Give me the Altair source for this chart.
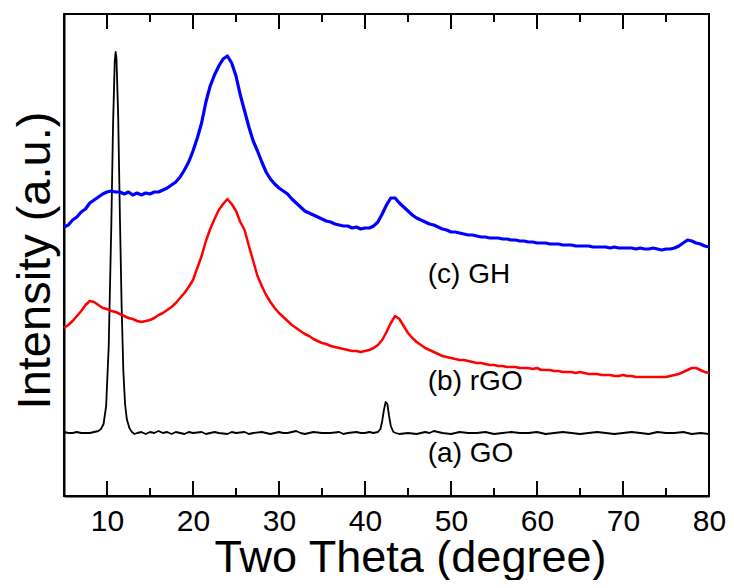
import altair as alt
import pandas as pd

# ---- data ----
step_x = [5 + 0.5 * i for i in range(151)]  # 5.0 ... 80.0 sampling positions

gh_x = step_x
gh_y = [269, 271, 276, 279, 284, 287, 293, 296, 299, 302,
        304, 305, 304, 304, 302, 304, 301, 303, 301, 303,
        302, 304, 304, 306, 308, 311, 314, 319, 326, 334,
        345, 358, 373, 394, 410, 421, 430, 437, 440, 433,
        420, 401, 385, 369, 355, 345, 334, 324, 317, 312,
        308, 305, 302, 297, 293, 289, 285, 283, 281, 279,
        277, 275, 274, 272, 271, 270, 270, 268, 269, 267,
        268, 268, 270, 274, 282, 291, 298, 298, 293, 289,
        285, 281, 278, 276, 274, 272, 271, 269, 267, 266,
        264, 264, 263, 262, 261, 261, 260, 259, 259, 258,
        258, 258, 257, 257, 256, 256, 255, 255, 254, 254,
        253, 253, 253, 252, 252, 252, 251, 251, 251, 250,
        250, 250, 250, 249, 249, 249, 249, 248, 249, 248,
        248, 248, 248, 247, 248, 247, 247, 248, 247, 246,
        247, 247, 248, 250, 253, 256, 255, 253, 252, 250,
        249]

rgo_x = step_x
rgo_y = [168, 171, 175, 180, 185, 191, 195, 194, 191, 188,
         187, 185, 184, 182, 180, 178, 177, 175, 174, 175,
         176, 178, 181, 183, 186, 189, 193, 198, 203, 209,
         216, 228, 240, 255, 267, 277, 286, 292, 297, 292,
         285, 274, 266, 250, 235, 220, 210, 201, 194, 188,
         183, 179, 175, 171, 168, 165, 162, 160, 157, 155,
         153, 152, 150, 149, 148, 147, 146, 145, 145, 144,
         145, 146, 148, 151, 156, 164, 173, 180, 177, 170,
         163, 158, 154, 151, 148, 146, 144, 142, 140, 139,
         138, 137, 136, 136, 135, 134, 133, 133, 132, 131,
         131, 130, 130, 129, 129, 129, 128, 128, 128, 127,
         128, 126, 126, 126, 125, 125, 124, 124, 124, 123,
         124, 123, 122, 122, 122, 121, 121, 121, 120, 120,
         121, 120, 120, 119, 119, 119, 119, 119, 119, 119,
         119, 120, 121, 122, 124, 126, 128, 128, 126, 124,
         123]

go_x = [5, 5.5, 6, 6.5, 7, 7.5, 8, 8.5, 9, 9.3, 9.6, 9.9, 10.2, 10.5, 10.7,
        10.9, 11.0, 11.1, 11.3, 11.5, 11.7, 11.9, 12.1, 12.3, 12.6, 12.9, 13.2,
        13.5, 14, 14.5, 15, 15.5, 16, 16.5, 17, 17.5, 18, 18.5, 19, 19.5, 20,
        21, 21.5, 22, 22.5, 23, 24, 24.5, 25, 26, 26.5, 27, 28, 28.5, 29, 30,
        30.5, 31, 32, 32.5, 33, 34, 35, 36, 37, 37.5, 38, 39, 39.5, 40, 40.5,
        41, 41.5, 41.8, 42.0, 42.2, 42.4, 42.6, 42.8, 43.0, 43.3, 43.6, 44, 45,
        46, 47, 47.5, 48, 49, 50, 51, 52, 53, 54, 55, 56, 57, 58, 59, 60, 61,
        62, 63, 64, 65, 66, 67, 68, 69, 70, 71, 72, 73, 74, 75, 76, 77, 78,
        79, 80]
go_y = [64, 63, 63, 64, 63, 63, 63, 64, 65, 67, 72, 90, 150, 270, 370,
        435, 444, 438, 380, 280, 190, 125, 92, 77, 68, 64, 62,
        63, 64, 62, 64, 63, 65, 63, 64, 62, 64, 63, 62, 64, 63,
        64, 62, 63, 64, 63, 62, 64, 63, 64, 62, 63, 64, 63, 62, 64,
        63, 63, 65, 63, 62, 64, 63, 63, 64, 62, 63, 64, 63, 63, 64,
        63, 64, 67, 75, 86, 94, 92, 80, 70, 64, 63, 62, 63,
        62, 64, 63, 65, 63, 62, 64, 63, 63, 64, 62, 63, 64, 63, 63, 64, 62,
        63, 64, 63, 62, 63, 64, 63, 62, 63, 64, 63, 62, 64, 63, 63, 64, 62,
        63, 62]

series_names = ["GO", "rGO", "GH"]
series_colors = ["#000000", "#FF0000", "#0000FF"]
series_widths = [1.8, 3.2, 3.2]

label_texts = ["(c) GH", "(b) rGO", "(a) GO"]
label_x = [47.3, 47.3, 47.3]
label_y = [213, 106, 34]

major_ticks = [10, 20, 30, 40, 50, 60, 70, 80]
minor_ticks = [15, 25, 35, 45, 55, 65, 75]

# ---- build tables ----
rows = []
for name, xs, ys in (("GO", go_x, go_y), ("rGO", rgo_x, rgo_y), ("GH", gh_x, gh_y)):
    for i, (a, b) in enumerate(zip(xs, ys)):
        rows.append({"series": name, "x": a, "y": b, "i": i})
df = pd.DataFrame(rows)
labels = pd.DataFrame({"text": label_texts, "x": label_x, "y": label_y})
major_df = pd.DataFrame({"x": major_ticks})
minor_df = pd.DataFrame({"x": minor_ticks})

FONT = "Arial, Liberation Sans, Helvetica, sans-serif"
W, H = 645, 482
xscale = alt.Scale(domain=[5, 80], nice=False, zero=False)
yscale = alt.Scale(domain=[0, 482], nice=False, zero=False)

x_axis = alt.Axis(orient="bottom", values=major_ticks, grid=False,
                  ticks=False, tickSize=0,
                  domainColor="black", domainWidth=2,
                  labelFont=FONT, labelFontSize=30, labelColor="black",
                  labelPadding=10, labelFlush=False, labelOverlap=False,
                  title="Two Theta (degree)", titleFont=FONT,
                  titleFontSize=45, titleFontWeight="normal",
                  titleColor="black", titleX=346, titleY=75,
                  titleAlign="center", titleBaseline="alphabetic")
y_axis = alt.Axis(ticks=False, tickSize=0, labels=False, grid=False,
                  domainColor="black", domainWidth=2,
                  title="Intensity (a.u.)", titleFont=FONT,
                  titleFontSize=47, titleFontWeight="normal",
                  titleColor="black", titlePadding=5, titleY=246)

lines = alt.Chart(df).mark_line(strokeJoin="round").encode(
    x=alt.X("x:Q", scale=xscale, axis=x_axis),
    y=alt.Y("y:Q", scale=yscale, axis=y_axis),
    color=alt.Color("series:N", scale=alt.Scale(domain=series_names, range=series_colors), legend=None),
    strokeWidth=alt.StrokeWidth("series:N", scale=alt.Scale(domain=series_names, range=series_widths), legend=None),
    order=alt.Order("i:Q"),
    detail="series:N",
)

text = alt.Chart(labels).mark_text(align="left", baseline="alphabetic", font=FONT,
                                   fontSize=28, color="black").encode(
    x=alt.X("x:Q", scale=xscale, axis=x_axis),
    y=alt.Y("y:Q", scale=yscale, axis=y_axis),
    text="text:N",
)

def tick_layer(data, y0, y1):
    return alt.Chart(data).mark_rule(color="black", strokeWidth=2).encode(
        x=alt.X("x:Q", scale=xscale, axis=x_axis),
        y=alt.value(y0), y2=alt.value(y1),
    )

ticks = [
    tick_layer(major_df, H, H - 15),
    tick_layer(minor_df, H, H - 8),
    tick_layer(major_df, 0, 15),
    tick_layer(minor_df, 0, 8),
]

chart = alt.layer(lines, text, *ticks).properties(
    width=W, height=H,
    autosize=alt.AutoSizeParams(type="none"),
    padding={"left": 56, "top": 6, "right": 17, "bottom": 84},
).configure_view(stroke="black", strokeWidth=2)

chart.save("out.html", embed_options={"renderer": "svg", "actions": False})
